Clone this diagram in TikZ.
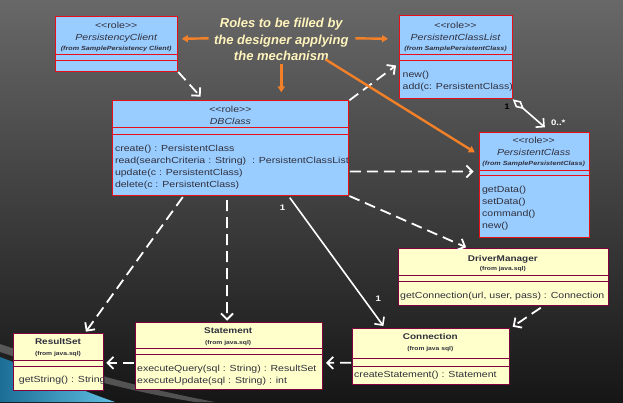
\documentclass[tikz,border=0pt]{standalone}
\usepackage{fontspec}
\setmainfont{Liberation Sans}[FakeStretch=1.2, Ligatures=TeXOff]
\newfontfamily\titlefont{Liberation Sans}
\usepackage{xcolor}
\definecolor{roleblue}{RGB}{153,204,255}
\definecolor{rolered}{RGB}{232,16,24}
\definecolor{javayellow}{RGB}{255,255,204}
\definecolor{javaline}{RGB}{128,0,64}
\definecolor{umltext}{RGB}{48,48,60}
\definecolor{rolesorange}{RGB}{242,128,40}
\definecolor{rolescream}{RGB}{255,244,188}
\definecolor{bgtop}{RGB}{104,104,104}
\definecolor{bgbot}{RGB}{22,22,22}
\definecolor{swoosha}{RGB}{28,110,150}
\definecolor{swooshb}{RGB}{95,190,225}
\usepackage{tikz}
\usetikzlibrary{positioning}
\usetikzlibrary{calc}
\usetikzlibrary{arrows.meta}

\begin{document}
\begin{tikzpicture}[x=1pt,y=-1pt,
    rolebox/.style={draw=rolered, fill=roleblue, line width=1pt, inner sep=0pt, anchor=north west},
    javabox/.style={draw=javaline, fill=javayellow, line width=1pt, inner sep=0pt, anchor=north west},
    stereo/.style={text=umltext, font=\fontsize{8.8}{10}\selectfont, text height=6.6pt, text depth=1.2pt, inner sep=0pt},
    rolename/.style={stereo, font=\fontsize{8.8}{10}\selectfont\itshape},
    classname/.style={stereo, font=\fontsize{8.3}{10}\selectfont\bfseries},
    fromtxt/.style={stereo, font=\fontsize{6}{7}\selectfont\bfseries\itshape, text height=4.5pt, text depth=1pt},
    fromjava/.style={fromtxt, font=\fontsize{5.6}{7}\selectfont\bfseries},
    op/.style={stereo, anchor=west},
    mult/.style={text=white, font=\fontsize{8}{9}\selectfont\bfseries, inner sep=0pt},
    dep/.style={white, line width=1.8pt, dash pattern=on 11pt off 6pt, -{Straight Barb[length=6pt,width=12pt]}},
    assoc/.style={white, line width=1.6pt, -{Straight Barb[length=6pt,width=12pt]}},
    rolesarrow/.style={rolesorange, line width=2.4pt, -{Triangle[length=6pt,width=7pt]}}]

    % background
    \useasboundingbox (0,0) rectangle (623,402);
    \shade[top color=bgtop, bottom color=bgbot] (0,0) rectangle (623,402);
    \fill[white, opacity=.25] (0,344) .. controls (60,364) and (120,384) .. (215,402)
        -- (195,402) .. controls (110,388) and (50,368) .. (0,352) -- cycle;
    \shade[left color=swoosha, right color=swooshb] (0,357) .. controls (40,372) and (80,390) .. (115,402)
        -- (0,402) -- cycle;

    % PersistencyClient
    \node[rolebox, minimum width=122pt, minimum height=55pt] (pc) at (55.2,16) {};
    \draw[rolered, line width=1pt] (55.2,54.3) -- (177.2,54.3) (55.2,60.3) -- (177.2,60.3);
    \node[stereo] (pc-s) at (116.2,25.3) {<<role>>};
    \node[rolename] (pc-n) at (116.2,37.7) {PersistencyClient};
    \node[fromtxt] (pc-f) at (116.2,48.3) {(from SamplePersistency Client)};

    % PersistentClassList
    \node[rolebox, minimum width=112.4pt, minimum height=83pt] (pcl) at (399.3,15.3) {};
    \draw[rolered, line width=1pt] (399.3,54.3) -- (511.7,54.3) (399.3,60.3) -- (511.7,60.3);
    \node[stereo] (pcl-s) at (455.5,25.3) {<<role>>};
    \node[rolename] (pcl-n) at (455.5,37.7) {PersistentClassList};
    \node[fromtxt] (pcl-f) at (455.5,48.7) {(from SamplePersistentClass)};
    \node[op] (pcl-o1) at (402.5,75) {new()};
    \node[op] (pcl-o2) at (402.5,86.7) {add(c: PersistentClass)};

    % DBClass
    \node[rolebox, minimum width=236pt, minimum height=94.7pt] (db) at (112.4,100.3) {};
    \draw[rolered, line width=1pt] (112.4,127.7) -- (348.4,127.7) (112.4,134.3) -- (348.4,134.3);
    \node[stereo] (db-s) at (230.4,109.3) {<<role>>};
    \node[rolename] (db-n) at (230.4,121.7) {DBClass};
    \node[op] (db-o1) at (114.8,148.7) {create() : PersistentClass};
    \node[op] (db-o2) at (114.8,160.7) {read(searchCriteria : String)~ : PersistentClassList};
    \node[op] (db-o3) at (114.8,172.7) {update(c : PersistentClass)};
    \node[op] (db-o4) at (114.8,184.7) {delete(c : PersistentClass)};

    % PersistentClass
    \node[rolebox, minimum width=110.1pt, minimum height=105.3pt] (pclass) at (478.7,131.7) {};
    \draw[rolered, line width=1pt] (478.7,170.3) -- (588.8,170.3) (478.7,175.3) -- (588.8,175.3);
    \node[stereo] (pclass-s) at (533.7,140.3) {<<role>>};
    \node[rolename] (pclass-n) at (533.7,152.7) {PersistentClass};
    \node[fromtxt] (pclass-f) at (533.7,163.3) {(from SamplePersistentClass)};
    \node[op] (pclass-o1) at (481.9,189.5) {getData()};
    \node[op] (pclass-o2) at (481.9,202) {setData()};
    \node[op] (pclass-o3) at (481.9,214) {command()};
    \node[op] (pclass-o4) at (481.9,226) {new()};

    % DriverManager
    \node[javabox, minimum width=210.2pt, minimum height=56.7pt] (dm) at (397.7,248.3) {};
    \draw[javaline, line width=1pt] (397.7,275.3) -- (607.9,275.3) (397.7,281.7) -- (607.9,281.7);
    \node[classname] (dm-n) at (502.8,258.7) {DriverManager};
    \node[fromjava] (dm-f) at (502.8,268.7) {(from java.sql)};
    \node[op] (dm-o1) at (400,295.7) {getConnection(url, user, pass) : Connection};

    % Connection
    \node[javabox, minimum width=157.4pt, minimum height=56.6pt] (conn) at (351.6,327.7) {};
    \draw[javaline, line width=1pt] (351.6,358.3) -- (509,358.3) (351.6,366.7) -- (509,366.7);
    \node[classname] (conn-n) at (430.3,336.7) {Connection};
    \node[fromjava] (conn-f) at (430.3,348.7) {(from java sql)};
    \node[op] (conn-o1) at (354,374.7) {createStatement() : Statement};

    % Statement
    \node[javabox, minimum width=187.1pt, minimum height=67.3pt] (stmt) at (134.7,321.7) {};
    \draw[javaline, line width=1pt] (134.7,348.3) -- (321.8,348.3) (134.7,354) -- (321.8,354);
    \node[classname] (stmt-n) at (228.2,330.7) {Statement};
    \node[fromjava] (stmt-f) at (228.2,342.3) {(from java.sql)};
    \node[op] (stmt-o1) at (137,368.7) {executeQuery(sql : String) : ResultSet};
    \node[op] (stmt-o2) at (137,380.7) {executeUpdate(sql : String) : int};

    % ResultSet
    \node[javabox, minimum width=90.6pt, minimum height=56.7pt] (rs) at (12.7,333.3) {};
    \draw[javaline, line width=1pt] (12.7,360) -- (103.3,360) (12.7,366) -- (103.3,366);
    \node[classname] (rs-n) at (58,341.3) {ResultSet};
    \node[fromjava] (rs-f) at (58,353.3) {(from java.sql)};
    \node[op] (rs-o1) at (18.7,379.3) {getString() : String};

    % connectors
    \draw[dep] (pc.south east) -- ($(db.north west)+(88.2,-3.6)$);
    \draw[dep] (db.north east) -- ($(pcl.west)+(-3.3,8.2)$);
    \draw[dep] ($(db.east)+(0.4,23.3)$) -- ($(pclass.west)+(-5.1,-13.3)$);
    \draw[dep] (db.south east) -- ($(dm.north)+(-37.2,-1)$);
    \draw[dep] ($(db.south)+(-3.9,4)$) -- ($(stmt.north)+(-1.7,-1)$);
    \draw[dep] ($(db.south west)+(70.4,1)$) -- ($(rs.north)+(27.4,-1.6)$);
    \draw[dep] ($(dm.south)+(37.5,1.7)$) -- ($(conn.north east)+(2.7,-1)$);
    \draw[dep] ($(conn.west)+(-0.4,6.3)$) -- ($(stmt.east)+(3.2,7)$);
    \draw[dep] ($(stmt.west)+(-0.8,7)$) -- ($(rs.east)+(2,0.7)$);
    \draw[assoc] ($(db.south east)+(-59.6,1.7)$) -- ($(conn.north west)+(31.8,-1.7)$);
    \draw[assoc, {Diamond[open,length=15pt,width=8pt]}-{Straight Barb[length=6pt,width=12pt]}]
        (pcl.south east) -- ($(pclass.north)+(10.6,-4.4)$);

    \node[mult, text=black] (m1) at (507,106.7) {1};
    \node[mult] (m2) at (558.2,122.7) {0..*};
    \node[mult] (m3) at (282.5,207.7) {1};
    \node[mult] (m4) at (378.2,298.3) {1};

    % roles
    \node[text=rolescream, align=center, inner sep=0pt,
        font=\titlefont\bfseries\itshape\fontsize{13}{16.4}\selectfont] (roles) at (281.3,39.5)
        {Roles to be filled by\\the designer applying\\the mechanism};
    \draw[rolesarrow] ($(roles.west)+(-5.2,-1.2)$) -- ($(pc.east)+(3.6,-5.2)$);
    \draw[rolesarrow] ($(roles.east)+(6.8,-1.2)$) -- ($(pcl.west)+(-11.3,-18.5)$);
    \draw[rolesarrow] ([yshift=-3.4pt]roles.south) -- ([yshift=8pt]roles.south |- db.north);
    \draw[rolesarrow] ($(roles.south)+(44.5,-1.3)$) -- ($(pclass.north west)+(-3.9,20.6)$);
\end{tikzpicture}
\end{document}
